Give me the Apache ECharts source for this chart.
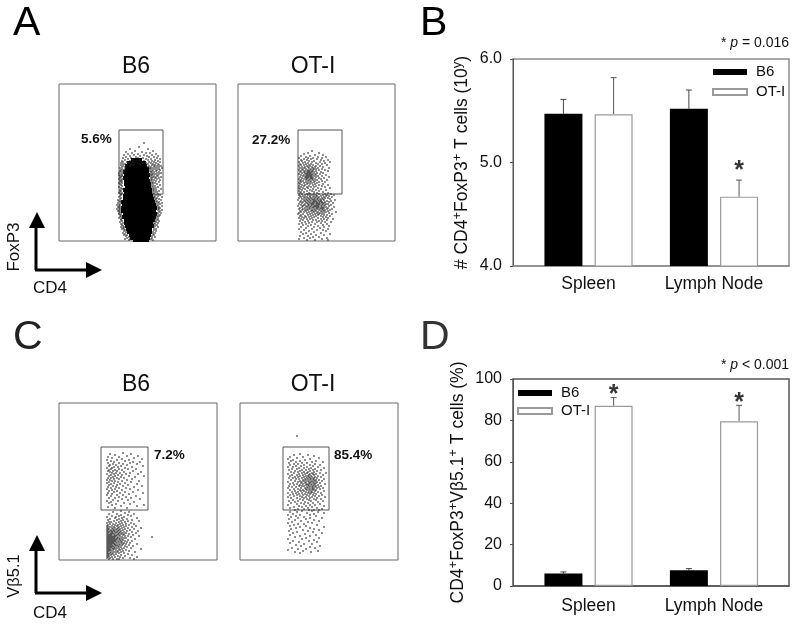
<!DOCTYPE html>
<html>
<head>
<meta charset="utf-8">
<style>
  html, body { margin: 0; background: #fff; }
  #chart { width: 800px; height: 626px; }
</style>
<script src="https://cdn.jsdelivr.net/npm/echarts@6/dist/echarts.min.js"></script>
</head>
<body>
<div id="chart"></div>
<script>
const groups = ["Spleen", "Lymph Node"];

// B: log10 counts
const countB6 = [5.47, 5.52];
const countB6Err = [5.61, 5.70];
const countOT = [5.465, 4.67];
const countOTErr = [5.82, 4.83];
const countStars = [[2, 1, 4.957]];

// D: percent
const pctB6 = [6, 7.6];
const pctB6Err = [6.8, 8.4];
const pctOT = [87.1, 79.6];
const pctOTErr = [91, 87.3];
const pctStars = [[1, 1, 94.2], [2, 1, 90.2]];

// gates: x0, y0, x1, y1
const gateAB6 = [[60, 47, 104, 111]];
const gateAOT = [[60, 47, 104, 111]];
const gateCB6 = [[42, 50, 89, 113]];
const gateCOT = [[43, 50, 89, 113]];

// dot clouds, placed by eye from the picture: y, then the x of each dot on that row
const dotsAB6Core = [[1,74,90],[3,71,91],[6,70,92],[9,68,93],[12,67,93],[15,66,95],[18,65,94],[21,65,96],[24,63,97],[27,64,98],[30,62,97],[33,62,98],[36,63,97],[39,62,96],[42,64,95],[45,64,94],[48,65,93],[51,64,93],[54,66,92],[57,65,92],[60,65,91],[63,64,90],[66,65,91],[69,64,90],[72,66,90],[75,66,88],[78,68,87],[81,72,83]];
const dotsAB6 = [[98,85],[94,80],[92,71,89],[90,76,94],[89,83,67],[88,73,91,87],[87,79,97,69],[86,85,75,93,65],[85,71,88,99,81],[84,67,95,77,90],[83,84,72,64,98,79],[82,92,69,87,101,75],[81,80,96,66,73,89],[80,63,85,99,71,93,77],[79,90,68,82,95,64,74,101],[78,87,97,62,70,92,79,84],[77,66,94,99,72,89,81,64],[76,93,62,68,87,100,96,75],[75,90,64,98,71,95,102,67],[74,92,63,96,89,100,66],[73,94,61,98,67,91,103],[72,96,63,92,100,66,90],[71,62,94,98,65,101],[70,93,61,97,64,91],[69,95,100,62,92,65],[68,98,60,93,64,102],[67,91,96,62,100,94],[66,63,93,98,60,92],[65,95,61,99,63],[64,92,102,62,97,94],[63,96,61,93,100],[62,63,92,98,60],[61,95,62,101,93],[60,92,97,63,61],[59,94,100,62],[58,93,96,60,63],[57,98,94,61],[56,62,92,101],[55,96,63,94],[54,93,60,99],[53,95,62,97],[52,63,94,102],[51,97,61,95],[50,94,62,100],[49,96,61,98],[48,63,94,60],[47,99,62,95],[46,97,101,62],[45,95,61,99],[44,60,96,103],[43,98,62,95],[42,61,100,97],[41,96,59,102],[40,60,98,62],[39,97,100,61],[38,59,99,103],[37,61,97,101],[36,60,99,58],[35,98,61,103],[34,100,59,60],[33,99,61,101],[32,58,100,60],[31,99,103,61],[30,60,101,59],[29,100,61],[28,98,60,102],[27,99,62,60],[26,61,97,101],[25,98,62,100],[24,61,99],[23,63,97,60],[22,96,99,62],[21,62,98],[20,96,63,100],[19,61,97],[18,64,95,99],[17,62,96],[16,63,98,94],[15,64,96],[14,65,99,62],[13,95,64],[12,97,63,65],[11,95,66],[10,65,97],[9,67,94],[8,64,96],[7,66,94],[6,68,95,65],[5,67,93],[4,70,96],[3,68,93],[2,71,92,66],[1,70,94]];
const dotsAOT = [[90,74],[88,70,81],[87,66],[86,77,85],[85,72,63],[84,80,68,88],[83,61,75,84,70],[82,66,79,73],[81,63,90,83,69],[80,76,71,86,64],[79,82,67,74,61,92],[78,70,78,65,87],[77,73,84,62,68,80],[76,75,66,71,89,63],[75,78,69,82,72,61],[74,64,74,85,67,77,70],[73,71,62,80,75,91,66],[72,68,73,78,84,64,76],[71,70,65,72,81,87,61,75],[70,67,74,69,78,63,71,90],[69,72,76,66,70,83,62,74],[68,69,73,64,79,71,85,67],[67,75,70,68,72,61,82,77],[66,66,71,74,69,88,78,63,73],[65,72,68,76,65,80,70,84],[64,74,67,71,62,78,69,73,91],[63,70,75,64,73,86,68,81],[62,66,72,77,69,61,83,74],[61,71,63,75,68,79,89],[60,65,73,70,84,77,62],[59,68,76,63,72,81,87],[58,74,66,70,61,79],[57,62,77,69,85,72],[56,67,75,64,90,81],[55,71,61,78,66,84],[54,73,63,69,87,76],[53,65,80,70,61,92],[52,75,67,83,62],[51,72,64,78,88],[50,69,61,81,74],[49,66,76,85,63],[48,71,79,62,90],
  [47,64,72,81,69,93,76,87],[46,61,78,85,67,74,96,70,89],[45,83,65,72,91,76,79,62,88],[44,69,75,81,63,86,78,94,72,67],[43,77,84,61,70,73,90,80,66,87],[42,74,82,68,79,64,92,85,76,71],[41,80,66,86,72,77,60,83,97,75,69],[40,73,78,83,63,70,89,81,76,67,93],[39,84,71,79,65,75,87,82,62,91,77,68],[38,76,81,69,74,86,64,79,95,72,84],[37,82,73,78,61,85,67,80,90,75,70,88],[36,79,71,84,66,76,63,81,93,74,87],[35,83,77,70,80,86,60,73,68,91,78,65],[34,75,81,72,88,64,84,79,69,96,76],[33,80,74,86,67,78,62,83,71,90,85],[32,72,79,65,82,76,89,69,61,84,94],[31,85,70,77,64,81,74,92,67,87],[30,73,83,62,78,68,90,75,86],[29,80,66,76,71,88,63,84,98],[28,69,82,74,61,79,91,86],[27,77,65,84,72,60,94,81],[26,70,86,75,63,80,89],[25,83,67,73,78,92,62],[24,76,64,85,71,88,68],[23,80,61,74,90,66],[22,72,83,69,86,63,95],[21,78,65,75,89],[20,62,81,70,84],[19,74,67,87,79,93],[18,64,83,71],[17,77,61,89,68],[16,73,85,65],[15,80,70,91],[14,63,76,86],[13,68,82],[12,74,61,90],[11,79,66,85],[10,71,88],[9,63,76],[8,83,68],[7,73,92,65],[6,86,78],[5,62,70],[4,81,75],[3,66,89,72],[2,84,61],[1,77,69,90]];
const dotsCB6 = [[107,64],[106,51,72],[105,56],[104,68,79],[103,49,60],[102,75,53],[101,83,63],[100,58,70,48],[99,66,52],[98,74,55,81],[97,60,49,71],[96,54,64,78],[95,51,57,68],[94,62,50,84],[93,55,73,59],[92,48,66,53],[91,60,77,52,69],[90,56,50,63],[89,49,58,74,54],[88,65,51,82],[87,53,61,57,71],[86,48,55,67,79],[85,59,52,63],[84,50,70,56,85],[83,54,62,76],[82,49,58,65,52],[81,60,73,55],[80,51,68,48],[79,56,63,80,53],[78,50,59,72],[77,55,66,48],[76,61,52,78],[75,58,69,50],[74,54,64,83],[73,49,75,57],[72,60,52,67],[71,56,71,48],[70,63,79,53],[69,50,58],[68,66,55,74],[67,49,61,84],[66,53,70],[65,58,64,48],[64,77,52],[63,60,67],[62,50,56,72],[61,63,81],[60,54,69],[59,48,59],[58,75,52],[57,65,50],[56,57,71],[55,85,53],[54,62,78],[53,49],[52,68,56],
  [49,62],[48,54,70],[47,66],[46,58,75,50],[45,62,69],[44,53,72,60],[43,48,65,57],[42,78,56,63],[41,51,68,60],[40,73,49,58,64],[39,55,62,80,69],[38,52,60,66,50],[37,57,72,48,63],[36,54,61,75,67,51],[35,49,59,70,56,64],[34,53,62,48,77,58,67],[33,60,51,55,73,65,49],[32,56,63,48,69,53,82,59],[31,50,58,66,54,61,75,49],[30,52,64,57,48,71,60,55],[29,49,55,62,53,68,79,59,51],[28,58,48,65,50,56,73,61,53],[27,54,60,49,67,52,63,57,77],[26,51,59,48,55,70,62,65,53],[25,49,56,52,64,60,74,50,58],[24,53,48,61,57,66,51,69,55,80],[23,50,59,54,63,49,72,56,93,52],[22,58,48,61,51,67,55,65,53],[21,49,56,60,52,76,50,63,58,54],[20,51,48,64,55,57,69,53,61],[19,59,50,54,66,49,52,73,62,56],[18,48,57,51,63,55,60,68,53],[17,50,65,52,58,49,71,54,62],[16,56,48,60,53,51,78,64,55,67],[15,49,58,52,61,50,56,70,63],[14,54,48,66,51,59,74,53,57],[13,50,62,55,49,68,52,60],[12,58,48,53,65,51,72,56],[11,49,63,55,50,82,60,54],[10,52,57,48,67,61,51],[9,50,59,54,70,49,64],[8,56,48,62,52,76,58],[7,51,65,49,54,60],[6,48,57,53,69,50],[5,55,62,49,73,52],[4,50,59,48,66],[3,53,56,78,49,61],[2,48,64,51,71],[1,54,50,60,58,75]];
const dotsCOT = [[124,57],[106,60],[105,54,68],[104,74],[103,50,63],[102,57,79],[101,70,48],[100,65,53],[99,60,76,51],[98,72,56,83],[97,49,67,62],[96,75,54,58],[95,80,64,50,70],[94,56,73,61],[93,67,48,78,53],[92,59,71,64,84],[91,52,75,69,57],[90,62,81,66,49,73],[89,55,70,60,77],[88,68,51,74,64,58],[87,72,62,80,54,67,86],[86,48,76,59,70,65,73],[85,57,69,83,63,74,52],[84,71,66,50,78,60,68],[83,75,55,64,72,81,58,69],[82,62,74,49,67,70,77,53],[81,68,59,73,65,84,71,56],[80,76,63,70,51,79,66,74],[79,60,72,68,55,75,82,64],[78,69,73,48,62,77,58,71,66],[77,74,53,65,70,80,61,76],[76,67,72,57,63,85,69,75,50],[75,71,60,78,66,74,54,68],[74,64,73,49,69,81,76,59,62],[73,70,56,67,75,52,72,79],[72,65,77,61,68,83,73,48],[71,58,72,66,74,54,70,80],[70,69,63,76,50,60,73,67],[69,75,55,71,64,84,61],[68,66,78,52,72,58,69],[67,62,74,48,68,81,56,71],[66,70,59,76,65,53],[65,73,63,82,50,67,57],[64,60,75,69,54,79],[63,66,48,72,62,85],[62,57,77,64,70,51],[61,74,60,67,81],[60,53,69,63,76],[59,49,71,58,83],[58,65,78,55],[57,61,73,51,68],[56,80,57,64],[55,70,48,75],[54,59,84,66],[53,54,72,62],[52,77,50,68],[51,64,58,82],[50,74,55,69,79],
  [49,62,72],[48,50,78,57],[47,67,84],[46,53,74],[45,60,48,70],[44,76,56],[43,64,51],[42,70,82,58],[41,49,66],[40,74,55],[39,61,79],[38,52,68],[37,72,48],[36,58,64],[35,77,54],[34,66,50],[33,84,60],[32,70,56],[31,51,74],[30,63,79],[29,49,68],[28,57,73],[27,82,53],[26,65],[25,50,76],[24,60,70],[23,55],[22,79,66],[21,48,62],[20,74],[19,53,69],[18,59,77],[17,50],[16,64,72],[15,56],[14,80,61],[13,70],[12,52,75],[11,58,66],[10,48],[9,78,63],[8,71,55],[7,60]];

const FONT = '"Liberation Sans", Arial, sans-serif';

const rowsToPoints = (rows) => {
  const pts = [];
  rows.forEach((row) => {
    row.slice(1).forEach((x) => pts.push([x, row[0]]));
  });
  return pts;
};

const grids = [];
const xAxes = [];
const yAxes = [];
const series = [];

// flow plot panel, one axis unit is one pixel
function addFlow(left, top, w, h, gate, dots, core) {
  const i = grids.length;
  grids.push({ show: true, left, top, width: w, height: h, borderColor: "#666", borderWidth: 1, backgroundColor: "transparent" });
  xAxes.push({ gridIndex: i, type: "value", min: 0, max: w, show: false });
  yAxes.push({ gridIndex: i, type: "value", min: 0, max: h, show: false });
  series.push({
    type: "custom", xAxisIndex: i, yAxisIndex: i, silent: true, data: gate, z: 1,
    renderItem: (params, api) => {
      const a = api.coord([api.value(0), api.value(3)]);
      const b = api.coord([api.value(2), api.value(1)]);
      return { type: "rect", shape: { x: a[0], y: a[1], width: b[0] - a[0], height: b[1] - a[1] }, style: { fill: "none", stroke: "#555", lineWidth: 1 } };
    },
  });
  series.push({
    type: "scatter", xAxisIndex: i, yAxisIndex: i, silent: true,
    symbol: "rect", symbolSize: 1.6, data: rowsToPoints(dots),
    itemStyle: { color: "#222", opacity: 0.85 },
  });
  if (core) {
    series.push({
      type: "custom", xAxisIndex: i, yAxisIndex: i, silent: true, data: core,
      renderItem: (params, api) => {
        const a = api.coord([api.value(1), api.value(0) + 2]);
        const b = api.coord([api.value(2), api.value(0) - 2]);
        return { type: "rect", shape: { x: a[0], y: a[1], width: b[0] - a[0], height: b[1] - a[1] }, style: { fill: "#000" } };
      },
    });
  }
}

// error bar whiskers, top side only
function errorSeries(i, slot, vals, tops, color) {
  return {
    type: "custom", xAxisIndex: i, yAxisIndex: i, silent: true, z: 1,
    data: vals.map((v, k) => [k + 1 + slot, v, tops[k]]),
    renderItem: (params, api) => {
      const a = api.coord([api.value(0), api.value(1)]);
      const b = api.coord([api.value(0), api.value(2)]);
      const st = { stroke: color, lineWidth: 1 };
      return {
        type: "group",
        children: [
          { type: "line", shape: { x1: a[0], y1: a[1], x2: b[0], y2: b[1] }, style: st },
          { type: "line", shape: { x1: b[0] - 3, y1: b[1], x2: b[0] + 3, y2: b[1] }, style: st },
        ],
      };
    },
  };
}

const slotOffset = 0.2;

function addBars(top, yOpt, b6, b6Err, ot, otErr, stars, name, nameGap, frame, labelMargin, legendPos) {
  const i = grids.length;
  grids.push({ show: true, left: 513, top, width: 276, height: 207, borderColor: frame, borderWidth: 1.5, backgroundColor: "transparent" });
  xAxes.push({
    gridIndex: i, type: "value", min: 0.398, max: 2.598,
    axisLine: { onZero: false, lineStyle: { color: frame, width: 1.5 } },
    axisTick: { show: false }, splitLine: { show: false },
    axisLabel: { customValues: [1, 2], formatter: (v) => groups[v - 1], color: "#111", fontFamily: FONT, fontSize: 17.5, margin: labelMargin },
  });
  yAxes.push(Object.assign({
    gridIndex: i, type: "value", splitLine: { show: false },
    axisLine: { show: true, lineStyle: { color: "#555", width: 1 } },
    axisTick: { show: true, length: 3, lineStyle: { color: "#555" } },
    name, nameLocation: "middle", nameGap,
    nameTextStyle: {
      color: "#111", fontFamily: FONT, fontSize: 17.5,
      rich: { s: { fontFamily: FONT, fontSize: 13, color: "#111", padding: [0, 0, 9, 0] } },
    },
  }, yOpt));
  series.push({
    name: "B6", type: "bar", xAxisIndex: i, yAxisIndex: i, barWidth: 38, barGap: "-100%", silent: true,
    data: b6.map((v, k) => [k + 1 - slotOffset, v]),
    itemStyle: { color: "#000" }, z: 2,
  });
  series.push({
    name: "OT-I", type: "bar", xAxisIndex: i, yAxisIndex: i, barWidth: 38, barGap: "-100%", silent: true,
    data: ot.map((v, k) => [k + 1 + slotOffset, v]),
    itemStyle: { color: "#fff", borderColor: "#9a9a9a", borderWidth: 1.2 }, z: 2,
  });
  series.push(errorSeries(i, -slotOffset, b6, b6Err, "#444"));
  series.push(errorSeries(i, slotOffset, ot, otErr, "#555"));
  series.push({
    type: "scatter", xAxisIndex: i, yAxisIndex: i, silent: true, symbolSize: 0, z: 6,
    data: stars.map((s) => [s[0] + (s[1] ? slotOffset : -slotOffset), s[2]]),
    label: { show: true, position: "inside", formatter: "*", color: "#000", fontFamily: FONT, fontWeight: "bold", fontSize: 25, offset: [0, 4] },
  });
  return Object.assign({
    orient: "vertical", data: ["B6", "OT-I"], itemWidth: 34, itemHeight: 6, selectedMode: false,
    padding: 0, icon: "rect",
    textStyle: { color: "#111", fontFamily: FONT, fontSize: 15, padding: [0, 0, 0, 4], lineHeight: 16 },
  }, legendPos);
}

addFlow(59, 84, 157, 157, gateAB6, dotsAB6, dotsAB6Core);
addFlow(238, 84, 157, 157, gateAOT, dotsAOT);
addFlow(59, 403, 158, 157, gateCB6, dotsCB6);
addFlow(240, 403, 158, 157, gateCOT, dotsCOT);

const legendB = addBars(59,
  { min: 4, max: 6, interval: 1, axisLabel: { formatter: (v) => v.toFixed(1), color: "#111", fontFamily: FONT, fontSize: 16, margin: 11 } },
  countB6, countB6Err, countOT, countOTErr, countStars,
  "# CD4{s|+}FoxP3{s|+} T cells (10{s|y})", 40, "#8c8c8c", 9, { left: 712, top: 64, itemGap: 4 });
const legendD = addBars(379,
  { min: 0, max: 100, interval: 20, axisLabel: { color: "#111", fontFamily: FONT, fontSize: 16, margin: 11 } },
  pctB6, pctB6Err, pctOT, pctOTErr, pctStars,
  "CD4{s|+}FoxP3{s|+}Vβ5.1{s|+} T cells (%)", 44, "#555", 11, { left: 517, top: 385, itemGap: 2 });

// text and staining arrows around the panels
const text = (x, y, str, size, extra) => ({
  type: "text", x, y, silent: true,
  style: Object.assign({ text: str, fontFamily: FONT, fontSize: size, fill: "#111", align: "left", verticalAlign: "middle" }, extra),
});
const vert = (x, y, str, size) => ({
  type: "text", x, y, rotation: Math.PI / 2, silent: true,
  style: { text: str, fontFamily: FONT, fontSize: size, fill: "#111", align: "center", verticalAlign: "middle" },
});
const arrows = (top, corner) => [
  { type: "line", silent: true, shape: { x1: 36, y1: top + 10, x2: 36, y2: corner }, style: { stroke: "#000", lineWidth: 3 } },
  { type: "line", silent: true, shape: { x1: 35, y1: corner, x2: 90, y2: corner }, style: { stroke: "#000", lineWidth: 3 } },
  { type: "polygon", silent: true, shape: { points: [[37, top], [29, top + 16], [45, top + 16]] }, style: { fill: "#000" } },
  { type: "polygon", silent: true, shape: { points: [[102, corner], [86, corner - 8], [86, corner + 8]] }, style: { fill: "#000" } },
];
const pText = (x, y, sign) => ({
  type: "text", x, y, silent: true,
  style: {
    text: "{a|* }{i|p}{a| " + sign + "}", align: "right", verticalAlign: "middle",
    rich: {
      a: { fontFamily: FONT, fontSize: 14, fill: "#111" },
      i: { fontFamily: FONT, fontSize: 14, fontStyle: "italic", fill: "#111" },
    },
  },
});

const graphicItems = [
  text(13, 24, "A", 41, { fill: "#000" }),
  text(420, 24, "B", 41, { fill: "#000" }),
  text(13, 338, "C", 41, { fill: "#222" }),
  text(420, 338, "D", 41, { fill: "#333" }),
  text(136, 67, "B6", 23, { align: "center" }),
  text(313, 67, "OT-I", 23, { align: "center" }),
  text(136, 385, "B6", 23, { align: "center" }),
  text(313, 385, "OT-I", 23, { align: "center" }),
  text(81, 139, "5.6%", 13.5, { fontWeight: "bold" }),
  text(252, 140, "27.2%", 13.5, { fontWeight: "bold" }),
  text(154, 455, "7.2%", 13.5, { fontWeight: "bold" }),
  text(334, 455, "85.4%", 13.5, { fontWeight: "bold" }),
  pText(789, 43, "= 0.016"),
  pText(789, 365, "< 0.001"),
  vert(14, 247, "FoxP3", 17),
  text(33, 288, "CD4", 17),
  vert(14, 576, "Vβ5.1", 16.5),
  text(33, 613, "CD4", 17),
  ...arrows(212, 270),
  ...arrows(535, 593),
];

const chart = echarts.init(document.getElementById("chart"));
chart.setOption({
  animation: false,
  backgroundColor: "#fff",
  tooltip: { show: false },
  legend: [legendB, legendD],
  grid: grids,
  xAxis: xAxes,
  yAxis: yAxes,
  series,
  graphic: { elements: graphicItems },
});
</script>
</body>
</html>
